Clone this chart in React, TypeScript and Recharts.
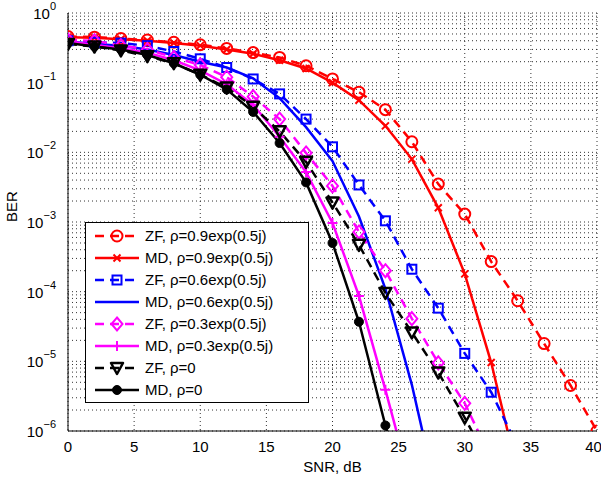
import React from 'react';
import { LineChart, Line, XAxis, YAxis, CartesianGrid, ReferenceLine } from 'recharts';

// SNR points (dB), markers every 2 dB
const snr = [0, 2, 4, 6, 8, 10, 12, 14, 16, 18, 20, 22, 24, 26, 28, 30, 32, 34, 36, 38, 40];

// BER values (null = not plotted)
const zf09 = [0.46, 0.45, 0.43, 0.41, 0.38, 0.35, 0.31, 0.27, 0.23, 0.175, 0.113, 0.073, 0.041, 0.0142, 0.0035, 0.0013, 2.7e-4, 7.4e-5, 1.8e-5, 4.5e-6, 1.0e-6];
const md09 = [0.45, 0.44, 0.42, 0.4, 0.37, 0.34, 0.3, 0.26, 0.21, 0.16, 0.1, 0.056, 0.024, 0.008, 0.0016, 1.8e-4, 9.6e-6, 2.5e-7, null, null, null];
const zf06 = [0.4, 0.38, 0.37, 0.34, 0.28, 0.22, 0.165, 0.113, 0.069, 0.03, 0.012, 0.0034, 0.00104, 2.1e-4, 5.8e-5, 1.3e-5, 3.6e-6, 6e-7, null, null, null];
const md06 = [0.39, 0.36, 0.34, 0.3, 0.25, 0.2, 0.165, 0.115, 0.06, 0.023, 0.0075, 0.0012, 1.1e-4, 4.6e-6, 1e-7, null, null, null, null, null, null];
const zf03 = [0.41, 0.4, 0.34, 0.3, 0.23, 0.18, 0.12, 0.063, 0.03, 0.0098, 0.0033, 7.2e-4, 2.0e-4, 4.1e-5, 9.5e-6, 2.5e-6, 4e-7, null, null, null, null];
const md03 = [0.39, 0.35, 0.31, 0.27, 0.21, 0.15, 0.095, 0.048, 0.0167, 0.0052, 9.7e-4, 8.7e-5, 3.9e-6, 1.5e-7, null, null, null, null, null, null, null];
const zf0 = [0.36, 0.33, 0.29, 0.24, 0.19, 0.13, 0.085, 0.045, 0.02, 0.0073, 0.0019, 4.7e-4, 9.6e-5, 2.6e-5, 6.9e-6, 1.55e-6, 3e-7, null, null, null, null];
const md0 = [0.37, 0.33, 0.3, 0.25, 0.19, 0.13, 0.08, 0.038, 0.0136, 0.0037, 5.0e-4, 3.7e-5, 1.2e-6, 4e-8, null, null, null, null, null, null, null];

const xTicks = [0, 5, 10, 15, 20, 25, 30, 35, 40];
const decades = [1e-6, 1e-5, 1e-4, 1e-3, 1e-2, 1e-1, 1];
const minorTicks = decades.slice(0, 6).flatMap((d) => [2, 3, 4, 5, 6, 7, 8, 9].map((m) => m * d));

type Kind = 'circle' | 'x' | 'square' | 'none' | 'diamond' | 'plus' | 'tri' | 'dot';

const series = [
  { key: 'zf09', name: 'ZF, ρ=0.9exp(0.5j)', color: '#ff0000', dashed: true, kind: 'circle' as Kind, data: zf09 },
  { key: 'md09', name: 'MD, ρ=0.9exp(0.5j)', color: '#ff0000', dashed: false, kind: 'x' as Kind, data: md09 },
  { key: 'zf06', name: 'ZF, ρ=0.6exp(0.5j)', color: '#0000ff', dashed: true, kind: 'square' as Kind, data: zf06 },
  { key: 'md06', name: 'MD, ρ=0.6exp(0.5j)', color: '#0000ff', dashed: false, kind: 'none' as Kind, data: md06 },
  { key: 'zf03', name: 'ZF, ρ=0.3exp(0.5j)', color: '#ff00ff', dashed: true, kind: 'diamond' as Kind, data: zf03 },
  { key: 'md03', name: 'MD, ρ=0.3exp(0.5j)', color: '#ff00ff', dashed: false, kind: 'plus' as Kind, data: md03 },
  { key: 'zf0', name: 'ZF, ρ=0', color: '#000000', dashed: true, kind: 'tri' as Kind, data: zf0 },
  { key: 'md0', name: 'MD, ρ=0', color: '#000000', dashed: false, kind: 'dot' as Kind, data: md0 },
];

const rows = snr.map((x, i) => {
  const r: any = { snr: x };
  series.forEach((s) => {
    r[s.key] = s.data[i];
  });
  return r;
});

function Marker({ cx, cy, kind, color }: { cx: number; cy: number; kind: Kind; color: string }) {
  const sw = 2;
  switch (kind) {
    case 'circle':
      return <circle cx={cx} cy={cy} r={5.5} fill="none" stroke={color} strokeWidth={sw} />;
    case 'x':
      return (
        <path d={`M${cx - 3.5},${cy - 3.5}L${cx + 3.5},${cy + 3.5}M${cx - 3.5},${cy + 3.5}L${cx + 3.5},${cy - 3.5}`} stroke={color} strokeWidth={sw} />
      );
    case 'square':
      return <rect x={cx - 4.5} y={cy - 4.5} width={9} height={9} fill="none" stroke={color} strokeWidth={sw} />;
    case 'diamond':
      return <path d={`M${cx},${cy - 6.5}L${cx + 5.5},${cy}L${cx},${cy + 6.5}L${cx - 5.5},${cy}Z`} fill="none" stroke={color} strokeWidth={sw} />;
    case 'plus':
      return <path d={`M${cx - 5},${cy}L${cx + 5},${cy}M${cx},${cy - 5}L${cx},${cy + 5}`} stroke={color} strokeWidth={sw} />;
    case 'tri':
      return <path d={`M${cx - 6},${cy - 5}L${cx + 6},${cy - 5}L${cx},${cy + 6}Z`} fill="none" stroke={color} strokeWidth={2.5} strokeLinejoin="round" />;
    case 'dot':
      return <circle cx={cx} cy={cy} r={4.5} fill={color} stroke={color} />;
    default:
      return <g />;
  }
}

const supers: Record<number, string> = { 1: '0', 0.1: '−1', 0.01: '−2', 0.001: '−3', 0.0001: '−4', 0.00001: '−5', 0.000001: '−6' };

const font = 'Liberation Sans, Arial, Helvetica, sans-serif';

function YTick(props: any) {
  const { x, y, payload } = props;
  const exp = supers[payload.value];
  if (exp === undefined) return <g />;
  return (
    <text x={x - 4} y={y + 6} textAnchor="end" fontSize={15} fill="#000" fontFamily={font}>
      <tspan>10</tspan>
      <tspan dy={-9} fontSize={11}>{exp}</tspan>
    </text>
  );
}

export default function App() {
  return (
    <div style={{ position: 'absolute', left: 0, top: 0, width: 601, height: 478, background: '#fff', fontFamily: font }}>
      <LineChart width={601} height={478} data={rows} margin={{ top: 13, right: 4, bottom: 22, left: 8 }}>
        <CartesianGrid stroke="#333" strokeDasharray="1 3" vertical horizontal />
        {minorTicks.map((v) => (
          <ReferenceLine key={v} y={v} stroke="#333" strokeDasharray="1 3" ifOverflow="hidden" />
        ))}
        <XAxis
          dataKey="snr"
          type="number"
          domain={[0, 40]}
          ticks={xTicks}
          allowDataOverflow
          stroke="#000"
          tickLine={false}
          tick={{ fill: '#000', fontSize: 15, fontFamily: font }}
          tickMargin={4}
          height={25}
          label={{ value: 'SNR, dB', position: 'insideBottom', offset: -16, fill: '#000', fontSize: 15, fontFamily: font }}
        />
        <XAxis xAxisId="top" orientation="top" type="number" domain={[0, 40]} ticks={xTicks} tick={false} tickLine={false} height={0} stroke="#000" />
        <YAxis
          scale="log"
          type="number"
          domain={[1e-6, 1]}
          allowDataOverflow
          ticks={decades}
          tick={<YTick />}
          tickLine={false}
          stroke="#000"
          width={60}
          label={{ value: 'BER', angle: -90, position: 'insideLeft', offset: 4, fill: '#000', fontSize: 15, fontFamily: font }}
        />
        <YAxis yAxisId="right" orientation="right" type="number" domain={[0, 1]} tick={false} tickLine={false} width={0} stroke="#000" />
        {series.map((s) => (
          <Line
            key={s.key}
            dataKey={s.key}
            type="linear"
            stroke={s.color}
            strokeWidth={2.5}
            strokeDasharray={s.dashed ? '9 6' : undefined}
            isAnimationActive={false}
            connectNulls={false}
            activeDot={false}
            dot={(p: any) =>
              p.cx == null || p.cy == null || p.value == null ? (
                <g key={`${s.key}-${p.index}`} />
              ) : (
                <g key={`${s.key}-${p.index}`}>
                  <Marker cx={p.cx} cy={p.cy} kind={s.kind} color={s.color} />
                </g>
              )
            }
          />
        ))}
      </LineChart>
      <div
        style={{
          position: 'absolute',
          left: 85,
          top: 222,
          width: 224,
          height: 181,
          border: '1px solid #000',
          background: '#fff',
          boxSizing: 'border-box',
        }}
      >
        <svg width={222} height={179} style={{ position: 'absolute', left: 0, top: 0 }}>
          {series.map((s, i) => {
            const cy = 13 + i * 22;
            return (
              <g key={s.key}>
                <line x1={9} x2={53} y1={cy} y2={cy} stroke={s.color} strokeWidth={2.5} strokeDasharray={s.dashed ? '9 6' : undefined} />
                <Marker cx={31} cy={cy} kind={s.kind} color={s.color} />
                <text x={59} y={cy + 5} fontSize={15} fontFamily={font} fill="#000">
                  {s.name}
                </text>
              </g>
            );
          })}
        </svg>
      </div>
    </div>
  );
}
